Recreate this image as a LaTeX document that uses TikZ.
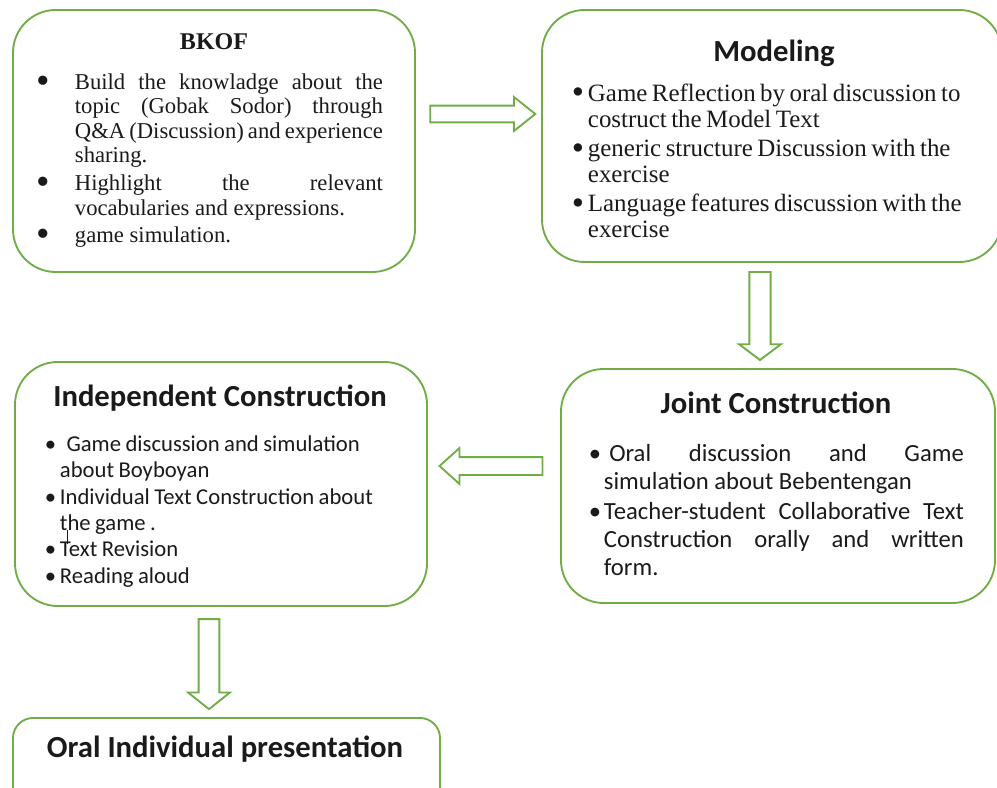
\documentclass[tikz,border=0pt]{standalone}
\usepackage{fontspec}
\setmainfont{Liberation Serif}
\newfontfamily\calibri{Carlito}
\usetikzlibrary{shapes.arrows, fit}
\definecolor{cgreen}{HTML}{70AD47}
\definecolor{cink}{HTML}{1A1A1A}
\hyphenpenalty=10000
\exhyphenpenalty=10000
% bullet item: [symbol]{hanging indent}{text}
\newcommand{\bitem}[3][\bigbul]{\par\hangindent=#2\hangafter=1\noindent\makebox[#2][l]{#1}#3}
\newcommand{\bigbul}{\raisebox{-0.17em}{\scalebox{1.7}{\textbullet}}}
\newcommand{\midbul}{\raisebox{-0.1em}{\scalebox{1.4}{\textbullet}}}
\tikzset{
  every picture/.style={line width=1.4pt},
  box/.style={draw=cgreen, line width=1.4pt, rounded corners=#1, inner sep=0pt},
  box/.default=32pt,
  blockarrow/.style={single arrow, draw=cgreen, line width=1.4pt, fill=white, inner xsep=0pt, single arrow head indent=0pt},
  title/.style={font=\calibri\bfseries\fontsize{23pt}{27pt}\selectfont, text=cink, anchor=base, inner sep=0pt},
  body/.style={anchor=north west, inner sep=0pt, text=cink},
}

\begin{document}
\begin{tikzpicture}[x=0.75pt, y=-0.75pt]
  \useasboundingbox (0,0) rectangle (997,788);
  % the five stages
  \node[box, fit={(13,10) (415,272)}] (bkof) {};
  \node[box, fit={(542,10) (1002,262)}] (model) {};
  \node[box, fit={(561,369) (995,603)}] (joint) {};
  \node[box, fit={(15,362) (427,606)}] (indep) {};
  \node[box=15pt, fit={(13,718) (440,812)}] (oral) {};

  \node[font=\bfseries\fontsize{18pt}{21pt}\selectfont, text=cink, anchor=base, inner sep=0pt] (bkoftitle) at (214,50) {BKOF};
  \node[title] (modeltitle) at (774,62) {Modeling};
  \node[title] (jointtitle) at (776,413) {Joint Construction};
  \node[title] (indeptitle) at (220,406) {Independent Construction};
  \node[title] (oraltitle) at (225,757) {Oral Individual presentation};

  \node[body, align=justify, text width=259.5pt] (bkoftext) at (36,60.5) {\fontsize{17pt}{18.4pt}\selectfont\setlength\parskip{2.4pt}%
    \bitem{28.5pt}{Build the knowladge about the\linebreak topic (Gobak Sodor) through\linebreak Q\&A (Discussion) and experience\linebreak sharing.}%
    \bitem{28.5pt}{Highlight the relevant\linebreak vocabularies and expressions.}%
    \bitem{28.5pt}{game simulation.}\par};

  \node[body, align=left, text width=300pt] (modeltext) at (571,71.5) {\fontsize{18.7pt}{19.5pt}\selectfont\setlength\parskip{2.3pt}%
    \bitem[\midbul]{12pt}{Game Reflection by oral discussion to\newline costruct the Model Text}%
    \bitem[\midbul]{12pt}{generic structure Discussion with the\newline exercise}%
    \bitem[\midbul]{12pt}{Language features discussion with the\newline exercise}\par};

  \node[body, align=justify, text width=281.25pt] (jointtext) at (588,430.4) {\calibri\fontsize{18.5pt}{21pt}\selectfont\setlength\parskip{1.5pt}%
    \bitem[\textbullet]{11.25pt}{\hspace{4pt}Oral discussion and Game\linebreak simulation about Bebentengan}%
    \bitem[\textbullet]{11.25pt}{Teacher-student Collaborative Text\linebreak Construction orally and written\linebreak form.}\par};

  \node[body, align=left, text width=267pt] (indeptext) at (44,424) {\calibri\fontsize{17pt}{19.8pt}\selectfont\setlength\parskip{0pt}%
    \bitem[\textbullet]{11.25pt}{\hspace{5pt}Game discussion and simulation\newline about Boyboyan}%
    \bitem[\textbullet]{11.25pt}{Individual Text Construction about\newline the game .}%
    \bitem[\textbullet]{11.25pt}{Text Revision}%
    \bitem[\textbullet]{11.25pt}{Reading aloud}\par};
  \draw[line width=0.6pt, cink] (67,530) -- (67,544);

  % block arrows between the stages
  \node[blockarrow, inner ysep=5.6pt, minimum height=78.75pt, single arrow head extend=6.4pt, single arrow tip angle=77] (bkof2model) at (477.5,114) {};
  \node[blockarrow, rotate=-90, inner ysep=7.3pt, minimum height=66pt, single arrow head extend=7.7pt, single arrow tip angle=106] (model2joint) at (760,312) {};
  \node[blockarrow, rotate=180, inner ysep=6pt, minimum height=77.25pt, single arrow head extend=6.75pt, single arrow tip angle=84] (joint2indep) at (496,466) {};
  \node[blockarrow, rotate=-90, inner ysep=7.1pt, minimum height=67.5pt, single arrow head extend=7.9pt, single arrow tip angle=103] (indep2oral) at (209,660) {};
\end{tikzpicture}
\end{document}
